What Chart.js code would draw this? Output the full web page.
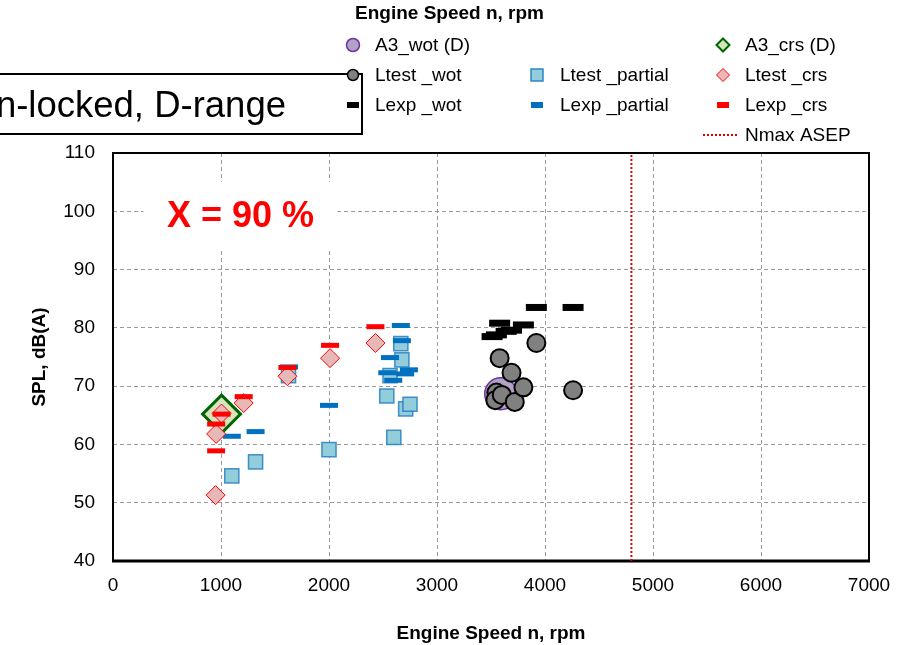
<!DOCTYPE html>
<html>
<head>
<meta charset="utf-8">
<script src="https://cdn.jsdelivr.net/npm/chart.js@4.4.0/dist/chart.umd.min.js"></script>
<style>
  body { margin: 0; background: #fff; }
  canvas { display: block; }
</style>
</head>
<body>
<canvas id="splChart" width="899" height="645"></canvas>
<script>
// values (engine speed rpm / SPL dB(A))
const a3WotX = [3590];
const a3WotY = [68.7];
const a3CrsX = [1005];
const a3CrsY = [65.2];

const ltestWotX = [3550, 3540, 3600, 3580, 3690, 3720, 3800, 3920, 4260];
const ltestWotY = [68.9, 67.6, 68.5, 74.8, 72.3, 67.3, 69.8, 77.4, 69.3];
const lexpWotX = [3510, 3550, 3580, 3640, 3690, 3800, 3920, 4260];
const lexpWotY = [78.5, 78.8, 80.8, 79.4, 79.6, 80.5, 83.5, 83.5];

const ltestPartialX = [1100, 1320, 1625, 2000, 2535, 2565, 2600, 2665, 2675, 2710, 2750];
const ltestPartialY = [54.6, 57.0, 71.8, 59.1, 68.3, 71.8, 61.2, 77.3, 74.5, 66.1, 66.9];
const lexpPartialX = [1100, 1320, 1630, 2000, 2540, 2565, 2595, 2665, 2675, 2705, 2740];
const lexpPartialY = [61.4, 62.2, 73.3, 66.7, 72.3, 74.9, 71.0, 80.4, 77.8, 72.1, 72.8];

const ltestCrsX = [950, 955, 1005, 1210, 1615, 2010, 2430];
const ltestCrsY = [51.3, 61.8, 65.3, 67.1, 71.7, 74.8, 77.4];
const lexpCrsX = [955, 955, 1005, 1210, 1615, 2010, 2430];
const lexpCrsY = [58.9, 63.5, 65.2, 68.2, 73.2, 77.0, 80.2];

const nmaxX = [4800, 4800];
const nmaxY = [40, 110];

const xTicks = [0, 1000, 2000, 3000, 4000, 5000, 6000, 7000];
const yTicks = [40, 50, 60, 70, 80, 90, 100, 110];

const FONT = "'Liberation Sans', Arial, sans-serif";

const pts = (xs, ys) => xs.map((x, i) => ({ x: x, y: ys[i] }));

// legend drawn by hand, Excel-like 3 column grid
const legendCols = [353, 537, 723];
const legendTextX = [375, 560, 745];
const legendRows = [45, 75, 105, 135];

function drawMarker(ctx, kind, x, y) {
  ctx.save();
  ctx.beginPath();
  if (kind === 'a3wot') {
    ctx.arc(x, y, 6.5, 0, Math.PI * 2);
    ctx.fillStyle = '#b3a2c7'; ctx.fill();
    ctx.lineWidth = 1.5; ctx.strokeStyle = '#7030a0'; ctx.stroke();
  } else if (kind === 'ltestwot') {
    ctx.arc(x, y, 5.5, 0, Math.PI * 2);
    ctx.fillStyle = '#808080'; ctx.fill();
    ctx.lineWidth = 1.5; ctx.strokeStyle = '#000'; ctx.stroke();
  } else if (kind === 'square') {
    ctx.rect(x - 6, y - 6, 12, 12);
    ctx.fillStyle = '#92cddc'; ctx.fill();
    ctx.lineWidth = 1.5; ctx.strokeStyle = '#2f85c4'; ctx.stroke();
  } else if (kind === 'a3crs' || kind === 'ltestcrs') {
    ctx.moveTo(x, y - 6.5); ctx.lineTo(x + 6.5, y); ctx.lineTo(x, y + 6.5); ctx.lineTo(x - 6.5, y); ctx.closePath();
    ctx.fillStyle = kind === 'a3crs' ? '#d7e4bd' : '#e6b9b8'; ctx.fill();
    ctx.lineWidth = kind === 'a3crs' ? 2 : 1;
    ctx.strokeStyle = kind === 'a3crs' ? '#006600' : '#ff0000'; ctx.stroke();
  } else if (kind === 'nmax') {
    ctx.setLineDash([2, 2]);
    ctx.moveTo(703, y); ctx.lineTo(739, y);
    ctx.lineWidth = 2; ctx.strokeStyle = '#e00000'; ctx.stroke();
  } else {
    // dash markers
    const col = kind === 'dashblack' ? '#000' : kind === 'dashblue' ? '#0070c0' : '#ff0000';
    ctx.fillStyle = col;
    ctx.fillRect(x - 6, y - 3, 12, 6);
  }
  ctx.restore();
}

const legendItems = [
  { col: 0, row: 0, label: 'A3_wot (D)', kind: 'a3wot' },
  { col: 2, row: 0, label: 'A3_crs (D)', kind: 'a3crs' },
  { col: 0, row: 1, label: 'Ltest _wot', kind: 'ltestwot' },
  { col: 1, row: 1, label: 'Ltest _partial', kind: 'square' },
  { col: 2, row: 1, label: 'Ltest _crs', kind: 'ltestcrs' },
  { col: 0, row: 2, label: 'Lexp _wot', kind: 'dashblack' },
  { col: 1, row: 2, label: 'Lexp _partial', kind: 'dashblue' },
  { col: 2, row: 2, label: 'Lexp _crs', kind: 'dashred' },
  { col: 2, row: 3, label: 'Nmax ASEP', kind: 'nmax' }
];

const extrasPlugin = {
  id: 'extras',
  beforeDatasetsDraw(chart) {
    const ctx = chart.ctx;
    const a = chart.chartArea;
    const xs = chart.scales.x, ys = chart.scales.y;
    ctx.save();
    // "X = 90 %" label on white background
    const cx = xs.getPixelForValue(1180), cy = ys.getPixelForValue(99.2);
    ctx.fillStyle = '#fff';
    ctx.fillRect(cx - 97, cy - 34, 194, 67);
    ctx.font = 'bold 36px ' + FONT;
    ctx.fillStyle = '#ff0000';
    ctx.textAlign = 'center';
    ctx.textBaseline = 'middle';
    ctx.fillText('X = 90 %', cx, cy + 1);
    // plot frame
    ctx.strokeStyle = '#000';
    ctx.lineWidth = 2;
    ctx.strokeRect(a.left, a.top, a.right - a.left, a.bottom - a.top);
    ctx.lineWidth = 3;
    ctx.beginPath();
    ctx.moveTo(a.left - 1, a.bottom); ctx.lineTo(a.right + 1, a.bottom);
    ctx.stroke();
    ctx.restore();
  },
  afterDraw(chart) {
    const ctx = chart.ctx;
    ctx.save();
    // condition box, cut by the left edge like in the source figure
    ctx.fillStyle = '#fff';
    ctx.fillRect(-5, 74, 367, 60);
    ctx.strokeStyle = '#000';
    ctx.lineWidth = 2;
    ctx.strokeRect(-5, 74, 367, 60);
    ctx.font = '36.5px ' + FONT;
    ctx.fillStyle = '#000';
    ctx.textAlign = 'right';
    ctx.textBaseline = 'alphabetic';
    ctx.fillText('n-locked, D-range', 286, 117);

    ctx.font = '19px ' + FONT;
    ctx.textAlign = 'left';
    ctx.textBaseline = 'middle';
    legendItems.forEach(item => {
      const y = legendRows[item.row];
      drawMarker(ctx, item.kind, legendCols[item.col], y);
      ctx.fillStyle = '#000';
      ctx.fillText(item.label, legendTextX[item.col], y + 1);
    });
    ctx.restore();
  }
};

new Chart(document.getElementById('splChart'), {
  type: 'scatter',
  data: {
    datasets: [
      {
        label: 'Lexp _wot', data: pts(lexpWotX, lexpWotY), order: 1,
        pointStyle: 'line', pointRadius: 10.5, pointBorderWidth: 7, borderColor: '#000', backgroundColor: '#000'
      },
      {
        label: 'Ltest _wot', data: pts(ltestWotX, ltestWotY), order: 2,
        pointStyle: 'circle', pointRadius: 9, pointBorderWidth: 2, borderColor: '#000', backgroundColor: '#808080'
      },
      {
        label: 'Lexp _crs', data: pts(lexpCrsX, lexpCrsY), order: 3,
        pointStyle: 'line', pointRadius: 9, pointBorderWidth: 5, borderColor: '#ff0000', backgroundColor: '#ff0000'
      },
      {
        label: 'Ltest _crs', data: pts(ltestCrsX, ltestCrsY), order: 4,
        pointStyle: 'rectRot', pointRadius: 9.5, pointBorderWidth: 1, borderColor: '#ff0000', backgroundColor: '#e6b9b8'
      },
      {
        label: 'Lexp _partial', data: pts(lexpPartialX, lexpPartialY), order: 5,
        pointStyle: 'line', pointRadius: 9, pointBorderWidth: 5, borderColor: '#0070c0', backgroundColor: '#0070c0'
      },
      {
        label: 'Ltest _partial', data: pts(ltestPartialX, ltestPartialY), order: 6,
        pointStyle: 'rect', pointRadius: 10, pointBorderWidth: 1.5, borderColor: 'rgba(30,120,190,0.8)', backgroundColor: '#92cddc'
      },
      {
        label: 'A3_crs (D)', data: pts(a3CrsX, a3CrsY), order: 7,
        pointStyle: 'rectRot', pointRadius: 19, pointBorderWidth: 3, borderColor: '#006600', backgroundColor: '#d7e4bd'
      },
      {
        label: 'A3_wot (D)', data: pts(a3WotX, a3WotY), order: 8,
        pointStyle: 'circle', pointRadius: 16, pointBorderWidth: 1.5, borderColor: '#7030a0', backgroundColor: '#b3a2c7'
      },
      {
        label: 'Nmax ASEP', data: pts(nmaxX, nmaxY), order: 9, showLine: true,
        pointRadius: 0, borderColor: '#e00000', borderWidth: 2, borderDash: [2, 2]
      }
    ]
  },
  options: {
    responsive: false,
    animation: false,
    devicePixelRatio: 1,
    layout: { padding: { top: 0, right: 0, left: 0, bottom: 0 } },
    plugins: {
      legend: { display: false },
      tooltip: { enabled: false },
      title: {
        display: true,
        text: 'Engine Speed n, rpm',
        color: '#000',
        font: { family: FONT, size: 19, weight: 'bold' },
        padding: { top: 2, bottom: 128.2 }
      }
    },
    scales: {
      x: {
        type: 'linear',
        min: xTicks[0],
        max: xTicks[xTicks.length - 1],
        afterBuildTicks: s => { s.ticks = xTicks.map(v => ({ value: v })); },
        afterFit: s => { s.height = 84; s.paddingRight = 30; },
        ticks: { color: '#000', padding: 13, font: { family: FONT, size: 19 }, callback: v => String(v) },
        grid: { color: '#9a9a9a', lineWidth: 1, drawTicks: false },
        border: { display: false, dash: [4, 3] },
        title: {
          display: true,
          text: 'Engine Speed n, rpm',
          color: '#000',
          font: { family: FONT, size: 19, weight: 'bold' },
          padding: { top: 4.6, bottom: 0 }
        }
      },
      y: {
        type: 'linear',
        min: yTicks[0],
        max: yTicks[yTicks.length - 1],
        afterBuildTicks: s => { s.ticks = yTicks.map(v => ({ value: v })); },
        afterFit: s => { s.width = 113; },
        ticks: { color: '#000', padding: 18, font: { family: FONT, size: 19 }, callback: v => String(v) },
        grid: { color: '#9a9a9a', lineWidth: 1, drawTicks: false },
        border: { display: false, dash: [4, 3] },
        title: {
          display: true,
          text: 'SPL, dB(A)',
          color: '#000',
          font: { family: FONT, size: 19, weight: 'bold' },
          padding: { top: 28.6, bottom: 0 }
        }
      }
    }
  },
  plugins: [extrasPlugin]
});
</script>
</body>
</html>
